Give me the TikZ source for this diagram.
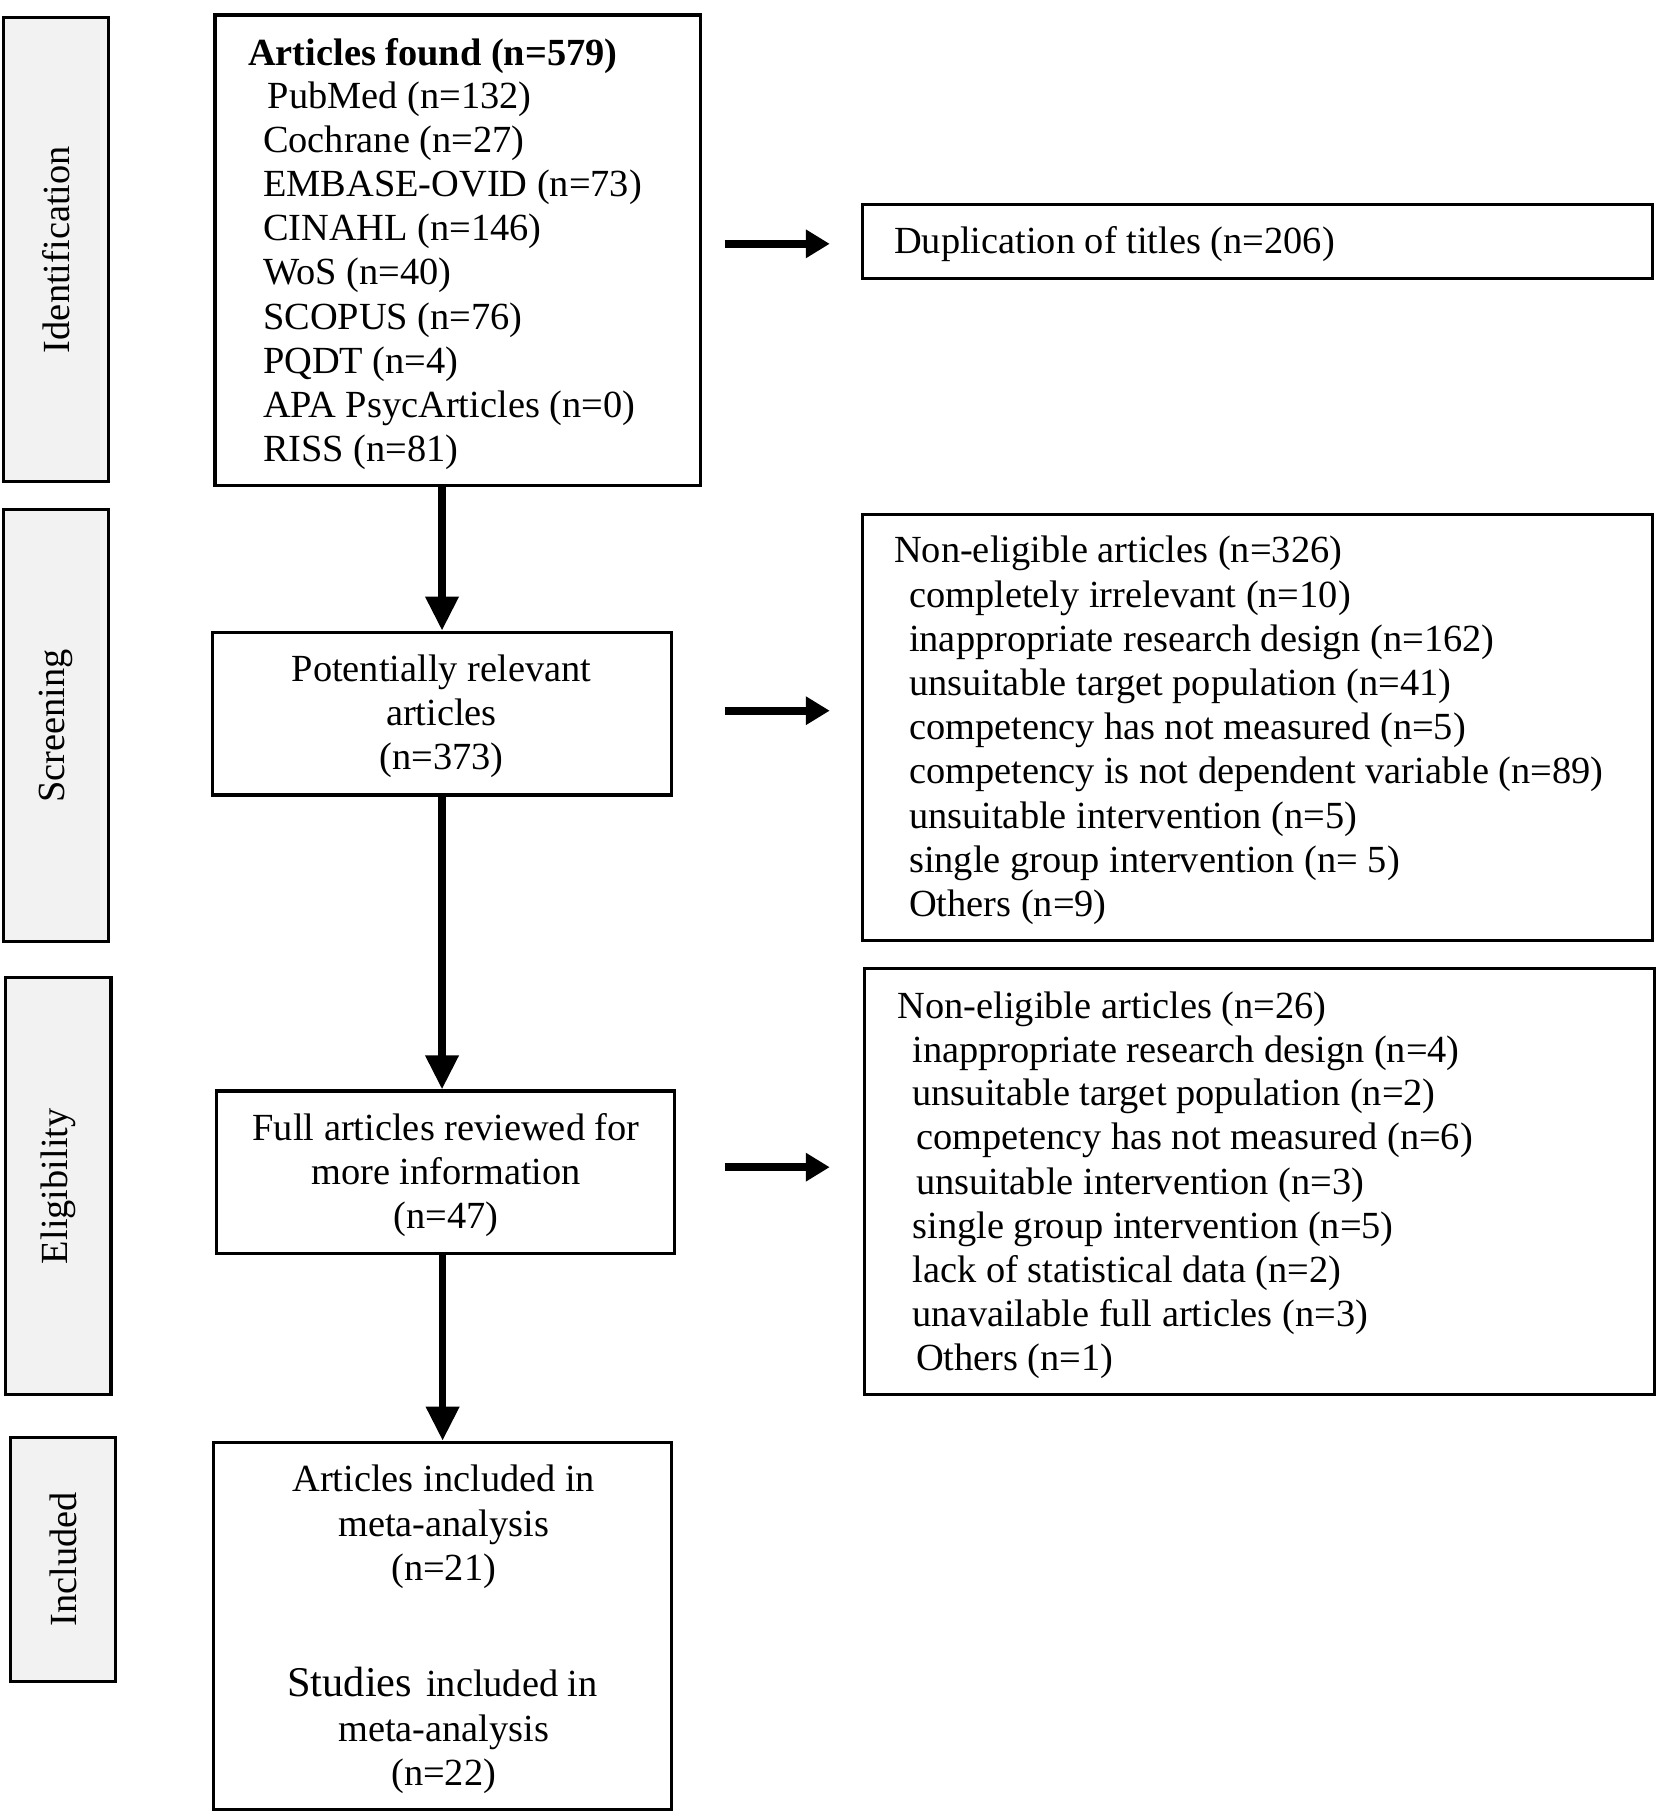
\documentclass[tikz,border=0pt]{standalone}
\usepackage{fontspec}
\setmainfont{Liberation Serif}
\usetikzlibrary{arrows.meta,fit}
\definecolor{stagegray}{HTML}{F2F2F2}
\begin{document}
\begin{tikzpicture}[x=0.289pt, y=-0.289pt,
  every node/.style={font=\fontsize{9.6pt}{10.98pt}\selectfont, inner sep=0pt},
  stagebox/.style={draw, line width=0.8pt, fill=stagegray, inner sep=0pt},
  flowbox/.style={draw, line width=0.8pt, inner sep=0pt},
  line/.style={anchor=base west},
  cline/.style={anchor=base},
  vflow/.style={line width=1.8pt, -{Triangle[length=8.5pt,width=8pt]}},
  hflow/.style={line width=2pt, -{Triangle[length=6pt,width=6.8pt]}}]
\useasboundingbox (0,0) rectangle (1434,1568);

% stage boxes
\node[stagebox, fit={(3,15) (94,417)}] (idb) {};
\node[stagebox, fit={(3,441) (94,815)}] (scb) {};
\node[stagebox, fit={(5,846) (96,1207)}] (elb) {};
\node[stagebox, fit={(9,1244) (100,1455)}] (inb) {};
\node[rotate=90] (idl) at (idb.center) {Identification};
\node[rotate=90] (scl) at (scb.center) {Screening};
\node[rotate=90] (ell) at (elb.center) {Eligibility};
\node[rotate=90] (inl) at (inb.center) {Included};

% main flow boxes
\node[flowbox, fit={(186,13) (606,420)}] (box1) {};
\node[flowbox, fit={(184,547) (581,688)}] (box2) {};
\node[flowbox, fit={(187,944) (584,1085)}] (box3) {};
\node[flowbox, fit={(185,1248) (581,1566)}] (box4) {};

% side boxes
\node[flowbox, fit={(746,177) (1430,241)}] (dup) {};
\node[flowbox, fit={(746,445) (1430,814)}] (scr) {};
\node[flowbox, fit={(748,838) (1432,1207)}] (elg) {};

% box1 text
\node[line] (a0) at (214,57) {\textbf{Articles found (n=579)}};
\node[line] (a1) at (231,94) {PubMed (n=132)};
\foreach \t [count=\i] in {Cochrane (n=27), EMBASE-OVID (n=73), CINAHL (n=146), WoS (n=40), SCOPUS (n=76), PQDT (n=4), APA PsycArticles (n=0), RISS (n=81)}
  \node[line] (a\i x) at (227,{132+38.2*(\i-1)}) {\t};

% box2 text
\node[cline] (b1) at (382,590) {Potentially relevant};
\node[cline] (b2) at (382,628) {articles};
\node[cline] (b3) at (382,666) {(n=373)};

% box3 text
\node[cline] (c1) at (386,987) {Full articles reviewed for};
\node[cline] (c2) at (386,1025) {more information};
\node[cline] (c3) at (386,1063) {(n=47)};

% box4 text
\node[cline] (d1) at (384,1291) {Articles included in};
\node[cline] (d2) at (384,1330) {meta-analysis};
\node[cline] (d3) at (384,1368) {(n=21)};
\node[cline] (d4) at (383,1468) {{\fontsize{10.6pt}{12pt}\selectfont Studies}\hspace{3.5pt}included in};
\node[cline] (d5) at (384,1507) {meta-analysis};
\node[cline] (d6) at (384,1545) {(n=22)};

% duplication
\node[line] (e1) at (773,219) {Duplication of titles (n=206)};

% screening exclusions
\node[line] (s0) at (773,487) {Non-eligible articles (n=326)};
\foreach \t [count=\i] in {completely irrelevant (n=10), inappropriate research design (n=162), unsuitable target population (n=41), competency has not measured (n=5), competency is not dependent variable (n=89), unsuitable intervention (n=5), single group intervention (n= 5), Others (n=9)}
  \node[line] (s\i) at (786,{526+38.1*(\i-1)}) {\t};

% eligibility exclusions
\node[line] (g0) at (776,881) {Non-eligible articles (n=26)};
\node[line] (g1) at (789,919) {inappropriate research design (n=4)};
\node[line] (g2) at (789,957) {unsuitable target population (n=2)};
\node[line] (g3) at (792,995) {competency has not measured (n=6)};
\node[line] (g4) at (792,1034) {unsuitable intervention (n=3)};
\node[line] (g5) at (789,1072) {single group intervention (n=5)};
\node[line] (g6) at (789,1110) {lack of statistical data (n=2)};
\node[line] (g7) at (789,1148) {unavailable full articles (n=3)};
\node[line] (g8) at (792,1186) {Others (n=1)};

% vertical arrows
\draw[vflow] (box1.south -| box2.north) -- (box2.north);
\draw[vflow] (box2.south) -- (box2.south |- box3.north);
\draw[vflow] (box3.south -| box4.north) -- (box4.north);

% horizontal arrows
\coordinate (h1s) at (627,211); \coordinate (h1e) at (718,211);
\coordinate (h2s) at (627,615); \coordinate (h2e) at (718,615);
\coordinate (h3s) at (627,1010); \coordinate (h3e) at (718,1010);
\draw[hflow] (h1s) -- (h1e);
\draw[hflow] (h2s) -- (h2e);
\draw[hflow] (h3s) -- (h3e);
\end{tikzpicture}
\end{document}
